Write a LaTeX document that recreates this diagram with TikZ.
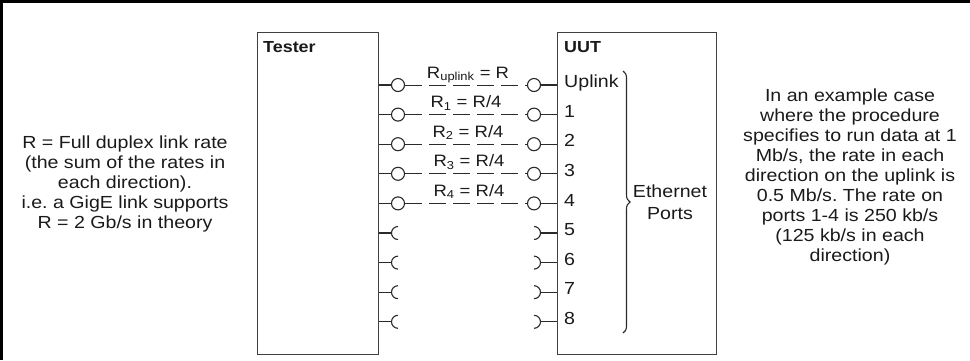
\documentclass[tikz,border=0pt]{standalone}
\usepackage{fontspec}
\setmainfont[FakeStretch=1.12]{Liberation Sans}
\usetikzlibrary{decorations.pathreplacing}
\definecolor{textgray}{HTML}{1A1A1A}
\definecolor{boxgray}{HTML}{404040}
\definecolor{linegray}{HTML}{2A2A2A}
\frenchspacing
\begin{document}
\begin{tikzpicture}[x=1bp,y=-1bp,
  box/.style={draw=boxgray,line width=1.3bp,rectangle,inner sep=0pt,anchor=north west},
  jack/.style={circle,draw=linegray,line width=1.1bp,minimum size=13bp,inner sep=0pt},
  wire/.style={draw=linegray,line width=1.3bp},
  link/.style={draw=linegray,line width=1bp,dash pattern=on 17bp off 7bp},
  txt/.style={text=textgray,font=\fontsize{17.5bp}{20bp}\selectfont,align=center,inner sep=0pt},
  lbl/.style={text=textgray,font=\fontsize{16.5bp}{19bp}\selectfont,inner sep=0pt,anchor=base},
  port/.style={text=textgray,font=\fontsize{17.5bp}{20bp}\selectfont,inner sep=0pt,anchor=mid west},
  head/.style={text=textgray,font=\bfseries\fontsize{16bp}{19bp}\selectfont,anchor=north west,inner sep=0pt}]
\useasboundingbox (0,0) rectangle (970,360);
\draw[line width=3bp,black] (1.5,360) -- (1.5,1.5) -- (970,1.5);
\node[box,minimum width=121bp,minimum height=322bp] (tester) at (257,32) {};
\node[box,minimum width=159bp,minimum height=322bp] (uut) at (557,32) {};
\node[head] (testerlbl) at (263,41) {Tester};
\node[head] (uutlbl) at (564,41) {UUT};
% active links
\foreach \i/\lab in {0/Uplink,1/1,2/2,3/3,4/4}{
  \pgfmathsetmacro{\yy}{85+29.6*\i}
  \node[jack] (L\i) at (398,\yy) {};
  \node[jack] (R\i) at (534,\yy) {};
  \draw[wire] (L\i.west) -- (L\i.west -| tester.east);
  \draw[wire] (R\i.east) -- (R\i.east -| uut.west);
  \draw[link] (L\i.east) -- (R\i.west);
  \node[port] (P\i) at (564,\yy) {\lab};
}
% unused ports
\foreach \i in {5,6,7,8}{
  \pgfmathsetmacro{\yy}{85+29.6*\i}
  \coordinate (Lt\i) at (391.5,\yy);
  \coordinate (Rt\i) at (540.5,\yy);
  \draw[wire] (Lt\i) -- (Lt\i -| tester.east);
  \draw[wire] (Rt\i) -- (Rt\i -| uut.west);
  \draw[wire,line width=1.1bp] (398,\yy-6.5) arc[start angle=270,end angle=90,radius=6.5];
  \draw[wire,line width=1.1bp] (534,\yy-6.5) arc[start angle=-90,end angle=90,radius=6.5];
  \node[port] (P\i) at (564,\yy) {\i};
}
% rate labels
\node[lbl] (lab0) at (468,78) {R\textsubscript{uplink} = R};
\node[lbl] (lab1) at (466,107.6) {R\textsubscript{1} = R/4};
\node[lbl] (lab2) at (468,137.2) {R\textsubscript{2} = R/4};
\node[lbl] (lab3) at (469,166.8) {R\textsubscript{3} = R/4};
\node[lbl] (lab4) at (469,196.4) {R\textsubscript{4} = R/4};
% brace
\draw[linegray,line width=1.1bp,decorate,decoration={brace,amplitude=7bp}] (623,71) -- (623,333);
\node[txt,font=\fontsize{17.5bp}{22bp}\selectfont] (eth) at (670,202) {Ethernet\\Ports};
% notes
\node[txt] (leftnote) at (125,184) {R = Full duplex link rate\\(the sum of the rates in\\each direction).\\i.e. a GigE link supports\\R = 2 Gb/s in theory};
\node[txt] (rightnote) at (850,177) {In an example case\\where the procedure\\specifies to run data at 1\\Mb/s, the rate in each\\direction on the uplink is\\0.5 Mb/s. The rate on\\ports 1-4 is 250 kb/s\\(125 kb/s in each\\direction)};
\end{tikzpicture}
\end{document}
